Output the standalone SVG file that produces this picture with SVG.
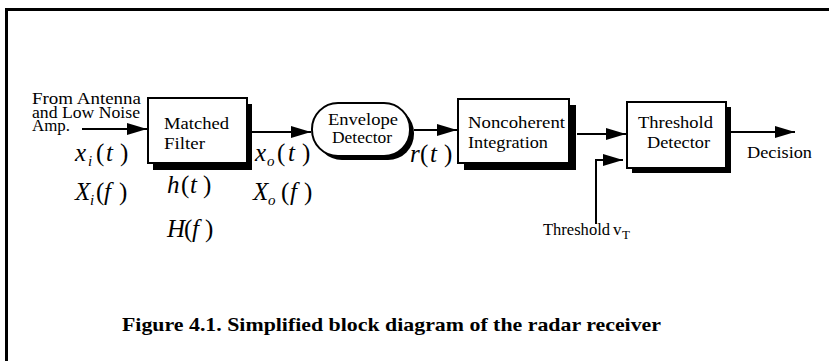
<svg xmlns="http://www.w3.org/2000/svg" width="829" height="361" viewBox="0 0 829 361">
<defs>
<style>
text{font-family:"Times New Roman","Liberation Serif",Tinos,Times,serif;fill:#000}
.t{font-size:17px}
.m{font-size:25px}
.it{font-style:italic}
.sub{font-size:15px;font-style:italic}
.cap{font-size:19px;font-weight:bold}
.box{fill:#fff;stroke:#000;stroke-width:2}
.sh{fill:#000}
.ln{fill:none;stroke:#000;stroke-width:2}
</style>
<marker id="ah" viewBox="0 0 20 12" refX="20" refY="6" markerWidth="20" markerHeight="12" markerUnits="userSpaceOnUse" orient="auto">
<path d="M0,0 L20,6 L0,12 Z" fill="#000"/>
</marker>
</defs>
<rect width="829" height="361" fill="#fff"/>
<path d="M6.5,361 V9.5 H829" fill="none" stroke="#000" stroke-width="3"/>

<g id="input-label">
<text class="t" x="32" y="104" textLength="109" lengthAdjust="spacingAndGlyphs">From Antenna</text>
<text class="t" x="32" y="118" textLength="108" lengthAdjust="spacingAndGlyphs">and Low Noise</text>
<text class="t" x="32" y="131" textLength="38" lengthAdjust="spacingAndGlyphs">Amp.</text>
</g>

<g id="matched-filter">
<rect class="sh" x="153" y="104" width="99" height="66"/>
<rect class="box" x="148" y="98" width="99" height="65"/>
<text class="t" x="164" y="129" textLength="65" lengthAdjust="spacingAndGlyphs">Matched</text>
<text class="t" x="164" y="149" textLength="41" lengthAdjust="spacingAndGlyphs">Filter</text>
</g>

<g id="envelope-detector">
<rect class="sh" x="316" y="107" width="98" height="53" rx="26" ry="26"/>
<rect class="box" x="312" y="103" width="98" height="53" rx="26" ry="26"/>
<text class="t" x="328" y="125" textLength="70" lengthAdjust="spacingAndGlyphs">Envelope</text>
<text class="t" x="332" y="143" textLength="60" lengthAdjust="spacingAndGlyphs">Detector</text>
</g>

<g id="noncoherent-integration">
<rect class="sh" x="464" y="105" width="112" height="65"/>
<rect class="box" x="458" y="99" width="111" height="64"/>
<text class="t" x="468" y="128" textLength="97" lengthAdjust="spacingAndGlyphs">Noncoherent</text>
<text class="t" x="468" y="148" textLength="80" lengthAdjust="spacingAndGlyphs">Integration</text>
</g>

<g id="threshold-detector">
<rect class="sh" x="632" y="107" width="99" height="66"/>
<rect class="box" x="627" y="102" width="99" height="66"/>
<text class="t" x="638" y="128" textLength="75" lengthAdjust="spacingAndGlyphs">Threshold</text>
<text class="t" x="647" y="148" textLength="63" lengthAdjust="spacingAndGlyphs">Detector</text>
</g>

<g id="connectors">
<line class="ln" x1="82" y1="129" x2="147" y2="129" marker-end="url(#ah)"/>
<line class="ln" x1="252" y1="132" x2="311" y2="132" marker-end="url(#ah)"/>
<line class="ln" x1="414" y1="130" x2="457" y2="130" marker-end="url(#ah)"/>
<line class="ln" x1="577" y1="134" x2="626" y2="134" marker-end="url(#ah)"/>
<polyline class="ln" points="596,224 596,160 623,160" marker-end="url(#ah)"/>
<line class="ln" x1="731" y1="132" x2="795" y2="132" marker-end="url(#ah)"/>
</g>

<g id="signal-labels">
<text class="m" y="161"><tspan class="it" x="75">x</tspan><tspan class="sub" x="88" dy="5">i</tspan><tspan x="96" dy="-5">(</tspan><tspan class="it" x="106">t</tspan><tspan x="120">)</tspan></text>
<text class="m" y="200"><tspan class="it" x="75">X</tspan><tspan class="sub" x="90" dy="5">i</tspan><tspan x="96" dy="-5">(</tspan><tspan class="it" x="104">f</tspan><tspan x="119">)</tspan></text>
<text class="m" y="193"><tspan class="it" x="167">h</tspan><tspan x="181">(</tspan><tspan class="it" x="190">t</tspan><tspan x="203">)</tspan></text>
<text class="m" y="237"><tspan class="it" x="167">H</tspan><tspan x="184">(</tspan><tspan class="it" x="192">f</tspan><tspan x="205">)</tspan></text>
<text class="m" y="161"><tspan class="it" x="255">x</tspan><tspan class="sub" x="267" dy="5">o</tspan><tspan x="277" dy="-5">(</tspan><tspan class="it" x="288">t</tspan><tspan x="302">)</tspan></text>
<text class="m" y="200"><tspan class="it" x="253">X</tspan><tspan class="sub" x="268" dy="5">o</tspan><tspan x="281" dy="-5">(</tspan><tspan class="it" x="290">f</tspan><tspan x="304">)</tspan></text>
<text class="m" y="162"><tspan class="it" x="410">r</tspan><tspan x="420">(</tspan><tspan class="it" x="430">t</tspan><tspan x="444">)</tspan></text>
<text class="t" x="747" y="158" textLength="65" lengthAdjust="spacingAndGlyphs">Decision</text>
<text class="t" x="543" y="235"><tspan textLength="67" lengthAdjust="spacingAndGlyphs">Threshold</tspan><tspan x="613">v</tspan><tspan x="622" font-size="13" dy="4">T</tspan></text>
</g>

<g id="caption">
<text class="cap" x="122" y="331" textLength="539" lengthAdjust="spacingAndGlyphs">Figure 4.1. Simplified block diagram of the radar receiver</text>
</g>
</svg>
